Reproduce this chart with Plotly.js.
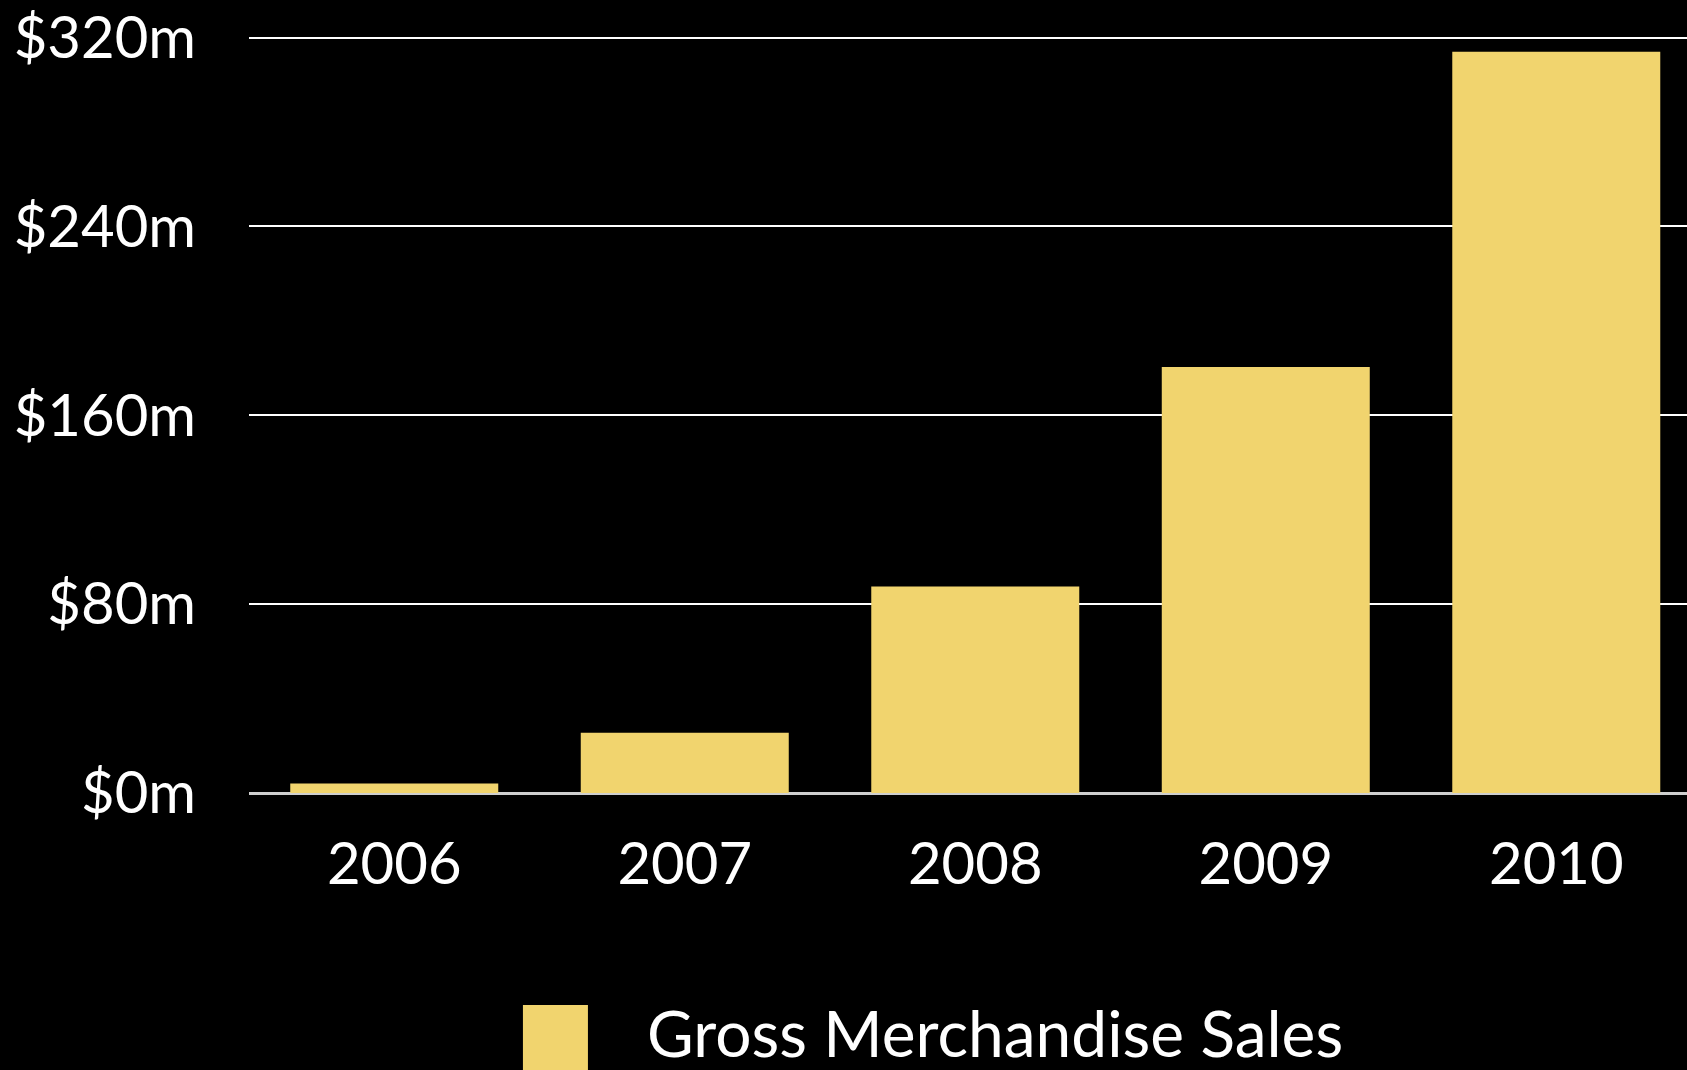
<!DOCTYPE html>
<html>
<head>
<meta charset="utf-8">
<script src="https://cdn.plot.ly/plotly-3.0.1.min.js"></script>
<style>
  html, body { margin: 0; padding: 0; background: #000; }
  #chart { width: 1687px; height: 1070px; }
</style>
</head>
<body>
<div id="chart"></div>
<script>
const years = ['2006', '2007', '2008', '2009', '2010'];
const salesMillions = [4, 25.5, 87.5, 180.5, 314];
const seriesName = 'Gross Merchandise Sales';
const yTickVals = [0, 80, 160, 240, 320];
const yTickText = ['$0m', '$80m', '$160m', '$240m', '$320m'];

const FONT = "'Gill Sans', 'Gill Sans MT', Lato, sans-serif";
const barColor = '#F1D46E';

const trace = {
  type: 'bar',
  x: years,
  y: salesMillions,
  name: seriesName,
  marker: { color: barColor, line: { width: 0 } },
  showlegend: false,
  hoverinfo: 'x+y'
};

const layout = {
  width: 1687,
  height: 1070,
  paper_bgcolor: '#000',
  plot_bgcolor: '#000',
  margin: { l: 249, r: 0, t: 14, b: 277 },
  bargap: 0.284,
  font: { family: FONT, color: '#fff', size: 58 },
  xaxis: {
    type: 'category',
    range: [-0.5, 4.45],
    showgrid: false,
    zeroline: false,
    showline: false,
    ticks: '',
    ticklabelstandoff: 32,
    ticklabeloverflow: 'allow',
    tickfont: { family: FONT, size: 58, color: '#fff' },
    fixedrange: true
  },
  yaxis: {
    range: [0, 330],
    tickvals: yTickVals,
    ticktext: yTickText,
    showgrid: true,
    gridcolor: '#ffffff',
    gridwidth: 2,
    zeroline: true,
    zerolinecolor: '#cfcfcf',
    zerolinewidth: 3,
    showline: false,
    ticks: '',
    ticklabelstandoff: 52,
    ticklabeloverflow: 'allow',
    tickfont: { family: FONT, size: 58, color: '#fff' },
    fixedrange: true
  },
  shapes: [
    {
      type: 'rect', xref: 'paper', yref: 'paper',
      x0: 0.1905, x1: 0.2357, y0: -0.2721, y1: -0.40,
      fillcolor: barColor, line: { width: 0 }
    }
  ],
  annotations: [
    {
      xref: 'paper', yref: 'paper',
      x: 0.2754, y: -0.308,
      xanchor: 'left', yanchor: 'middle',
      text: seriesName,
      showarrow: false,
      font: { family: FONT, size: 64, color: '#fff' }
    }
  ]
};

Plotly.newPlot('chart', [trace], layout, { displayModeBar: false, responsive: false });
</script>
</body>
</html>
